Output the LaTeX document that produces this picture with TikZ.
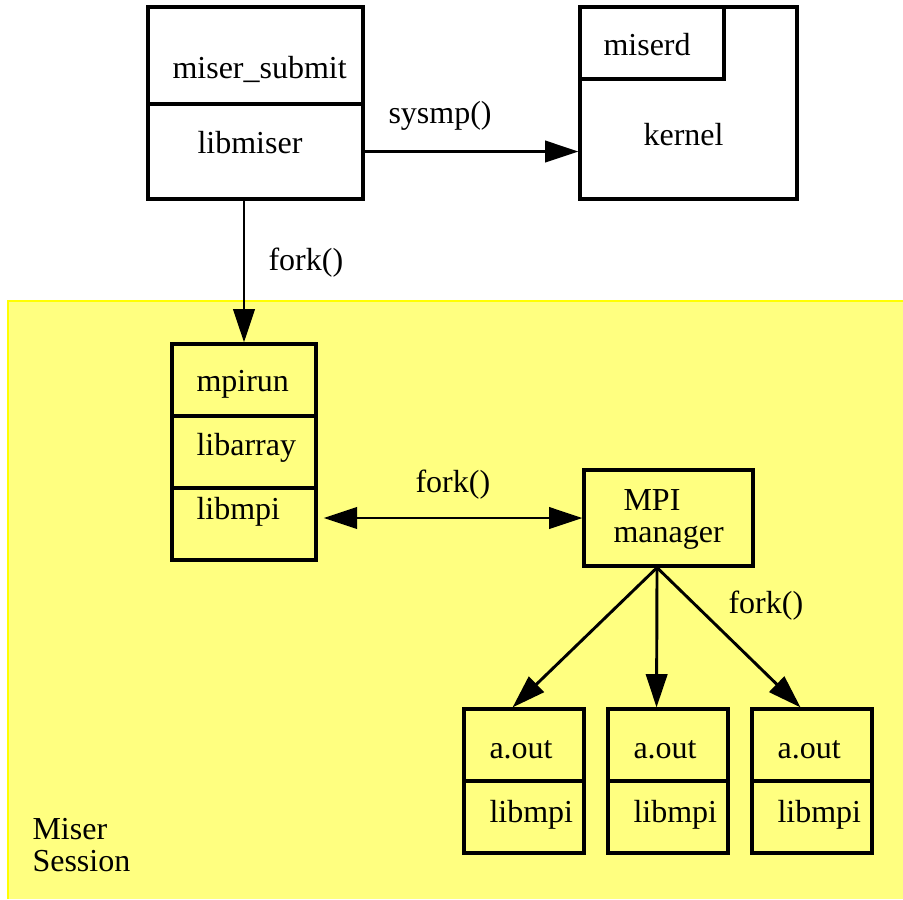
\documentclass[tikz,border=0pt]{standalone}
\usepackage{fontspec}
\setmainfont{Liberation Serif}
\newfontfamily\diagfont{Liberation Serif}
\usetikzlibrary{arrows.meta,fit}

\definecolor{sessionfill}{RGB}{255,255,128}
\definecolor{sessionline}{RGB}{255,255,0}

\begin{document}
\begin{tikzpicture}[
    x=0.375pt, y=-0.375pt,
    >={Triangle[length=12.5pt,width=8pt]},
    cell/.style={draw, line width=1.2pt, inner sep=0pt},
    lbl/.style={anchor=base west, inner sep=0pt, font=\diagfont\fontsize{12pt}{11.8pt}\selectfont},
    arr/.style={->, line width=1.1pt}
]
    \useasboundingbox (0,0) rectangle (903,899);

    % Session area
    \fill[sessionfill] (8,301) rectangle (903,899);
    \draw[sessionline, line width=0.8pt] (8,899) -- (8,301) -- (903,301);

    % miser_submit / libmiser
    \node[cell, fit={(148,7) (363,104)}] (submit) {};
    \node[cell, fit={(148,104) (363,199)}] (libmiser) {};
    \node[lbl] (submittxt) at (172,78) {miser\_submit};
    \node[lbl] (libmisertxt) at (197,153) {libmiser};

    % kernel with miserd
    \node[cell, fit={(580,7) (797,199)}] (kernel) {};
    \node[cell, fit={(580,7) (724,79)}] (miserd) {};
    \node[lbl] (miserdtxt) at (603,55) {miserd};
    \node[lbl] (kerneltxt) at (643,145) {kernel};

    % sysmp()
    \draw[arr] (libmiser.east) -- (libmiser.east -| kernel.west);
    \node[lbl] (sysmp) at (388,123) {sysmp()};

    % mpirun stack
    \node[cell, fit={(172,344) (316,416)}] (mpirun) {};
    \node[cell, fit={(172,416) (316,488)}] (libarray) {};
    \node[cell, fit={(172,488) (316,560)}] (libmpi) {};
    \node[lbl] (mpiruntxt) at (196,391) {mpirun};
    \node[lbl] (libarraytxt) at (196,455) {libarray};
    \node[lbl] (libmpitxt) at (196,519) {libmpi};

    % fork() into the session
    \draw[arr] (mpirun.north |- libmiser.south) -- (mpirun.north);
    \node[lbl] (forktop) at (268,270) {fork()};

    % MPI manager
    \node[cell, fit={(584,470) (753,566)}] (manager) {};
    \node[lbl, align=left] (managertxt) at (613,542) {\hspace*{3.75pt}MPI\\manager};
    \draw[<->, line width=1.1pt, shorten <=2.3pt] (manager.west -| libmpi.east) -- (manager.west);
    \node[lbl] (forkmid) at (415,492) {fork()};

    % a.out processes
    \coordinate (fan) at ([xshift=-4.3pt]manager.south);
    \foreach \i/\x in {1/464, 2/608, 3/752} {
        \node[cell, fit={(\x,709) (\x+120,781)}] (aout\i) {};
        \node[cell, fit={(\x,781) (\x+120,853)}] (lib\i) {};
        \node[lbl] (aouttxt\i) at (\x+25,758) {a.out};
        \node[lbl] (libtxt\i) at (\x+25,822) {libmpi};
        \draw[arr] (fan) -- ([xshift=-4.3pt]aout\i.north);
    }
    \node[lbl] (forkright) at (728,613) {fork()};

    \node[lbl, align=left] (session) at (32,871) {Miser\\Session};
\end{tikzpicture}
\end{document}
